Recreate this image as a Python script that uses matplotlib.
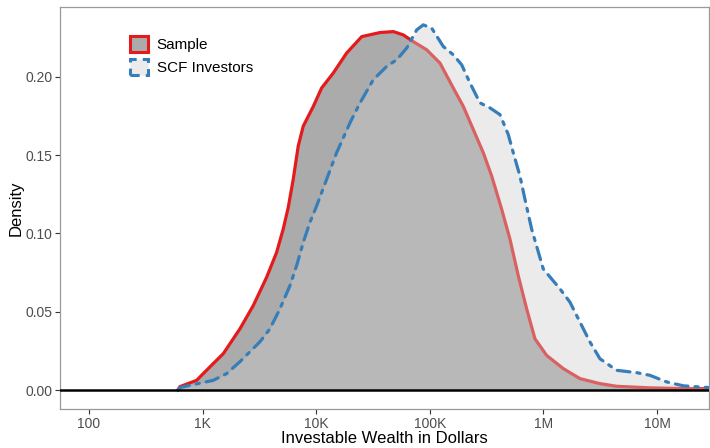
import matplotlib
matplotlib.use("Agg")
import matplotlib.pyplot as plt
from matplotlib.patches import Patch
import numpy as np

plt.rcParams['font.family'] = ['Liberation Sans', 'DejaVu Sans']

# ---- data (log10 of investable wealth, density) ----
sample_log10 = [2.783, 2.801, 2.948, 3.006, 3.094, 3.182, 3.329, 3.446, 3.564, 3.652,
                3.710, 3.754, 3.798, 3.842, 3.886, 3.975, 4.048, 4.151, 4.268, 4.401,
                4.562, 4.679, 4.767, 4.855, 4.973, 5.090, 5.207, 5.295, 5.383, 5.471,
                5.545, 5.633, 5.706, 5.779, 5.853, 5.926, 6.029, 6.175, 6.322, 6.498,
                6.645, 6.938, 7.200, 7.500]
sample_density = [0.0000, 0.0022, 0.0062, 0.0105, 0.0169, 0.0232, 0.0391, 0.0539, 0.0720, 0.0879,
                  0.1028, 0.1165, 0.1345, 0.1557, 0.1684, 0.1811, 0.1928, 0.2024, 0.2151, 0.2256,
                  0.2282, 0.2288, 0.2267, 0.2224, 0.2172, 0.2087, 0.1928, 0.1811, 0.1663, 0.1515,
                  0.1366, 0.1154, 0.0963, 0.0730, 0.0518, 0.0327, 0.0221, 0.0137, 0.0073, 0.0041,
                  0.0024, 0.0014, 0.0010, 0.0008]

scf_log10 = [2.783, 2.801, 3.094, 3.212, 3.329, 3.505, 3.593, 3.681, 3.769, 3.828,
             3.886, 3.945, 4.004, 4.092, 4.180, 4.298, 4.386, 4.503, 4.621, 4.709,
             4.797, 4.885, 4.943, 5.017, 5.119, 5.207, 5.281, 5.354, 5.442, 5.530,
             5.618, 5.691, 5.735, 5.794, 5.838, 5.897, 5.999, 6.146, 6.234, 6.322,
             6.410, 6.498, 6.645, 6.821, 6.938, 7.085, 7.232, 7.408, 7.600]
scf_density = [0.0000, 0.0016, 0.0062, 0.0105, 0.0181, 0.0308, 0.0391, 0.0518, 0.0666, 0.0794,
               0.0942, 0.1070, 0.1175, 0.1345, 0.1515, 0.1706, 0.1833, 0.1981, 0.2066, 0.2108,
               0.2183, 0.2299, 0.2331, 0.2310, 0.2193, 0.2140, 0.2076, 0.1960, 0.1833, 0.1801,
               0.1758, 0.1631, 0.1515, 0.1366, 0.1218, 0.1027, 0.0773, 0.0646, 0.0561, 0.0434,
               0.0307, 0.0200, 0.0126, 0.0111, 0.0094, 0.0052, 0.0027, 0.0018, 0.0010]

series_labels = ["Sample", "SCF Investors"]
tick_values = [1e2, 1e3, 1e4, 1e5, 1e6, 1e7]
tick_labels = ["100", "1K", "10K", "100K", "1M", "10M"]
y_ticks = [0.00, 0.05, 0.10, 0.15, 0.20]

red = "#E41A1C"
blue = "#377EB8"

sx = 10 ** np.array(sample_log10)
cx = 10 ** np.array(scf_log10)

fig = plt.figure(figsize=(7.10, 4.48), dpi=100)
ax = fig.add_axes([60/710, 39/448, 649/710, 402/448])

ax.fill_between(sx, 0, sample_density, color="#ababab", lw=0, zorder=1)
ax.plot(sx, sample_density, color=red, lw=2.3, zorder=2, solid_capstyle='round',
        solid_joinstyle='round')
ax.fill_between(cx, 0, scf_density, color="#cdcdcd", alpha=0.4, lw=0, zorder=3)
ax.plot(cx, scf_density, color=blue, lw=2.3, zorder=4, linestyle=(0, (4, 2.2, 1, 2.2)),
        dash_capstyle='round', dash_joinstyle='round')
ax.axhline(0, color="black", lw=1.8, zorder=5)

ax.set_xscale('log')
ax.set_xlim(10 ** 1.745, 10 ** 7.458)
ax.set_ylim(-0.0121, 0.2445)
ax.set_xticks(tick_values)
ax.set_xticklabels(tick_labels)
ax.xaxis.set_minor_locator(matplotlib.ticker.NullLocator())
ax.set_yticks(y_ticks)
ax.set_yticklabels([f"{v:.2f}" for v in y_ticks])
ax.tick_params(axis='both', colors="#333333", labelcolor="#4d4d4d", labelsize=10,
               length=3.5, width=0.8, direction='out', pad=2)
for s in ax.spines.values():
    s.set_color("#999999")
    s.set_linewidth(0.9)

ax.set_xlabel("Investable Wealth in Dollars", fontsize=12, color="black", labelpad=0)
ax.set_ylabel("Density", fontsize=12, color="black", labelpad=1.5)

handles = [
    Patch(facecolor="#ababab", edgecolor=red, linewidth=2.2, label=series_labels[0]),
    Patch(facecolor="#ebebeb", edgecolor=blue, linewidth=2.2, linestyle=(0, (3, 2)),
          label=series_labels[1]),
]
ax.legend(handles=handles, loc='upper left', bbox_to_anchor=(0.108, 0.928), frameon=False,
          fontsize=11, handlelength=1.2, handleheight=1.25, handletextpad=0.55,
          labelspacing=0.42, borderaxespad=0, borderpad=0)

fig.savefig("out.png", dpi=100)
